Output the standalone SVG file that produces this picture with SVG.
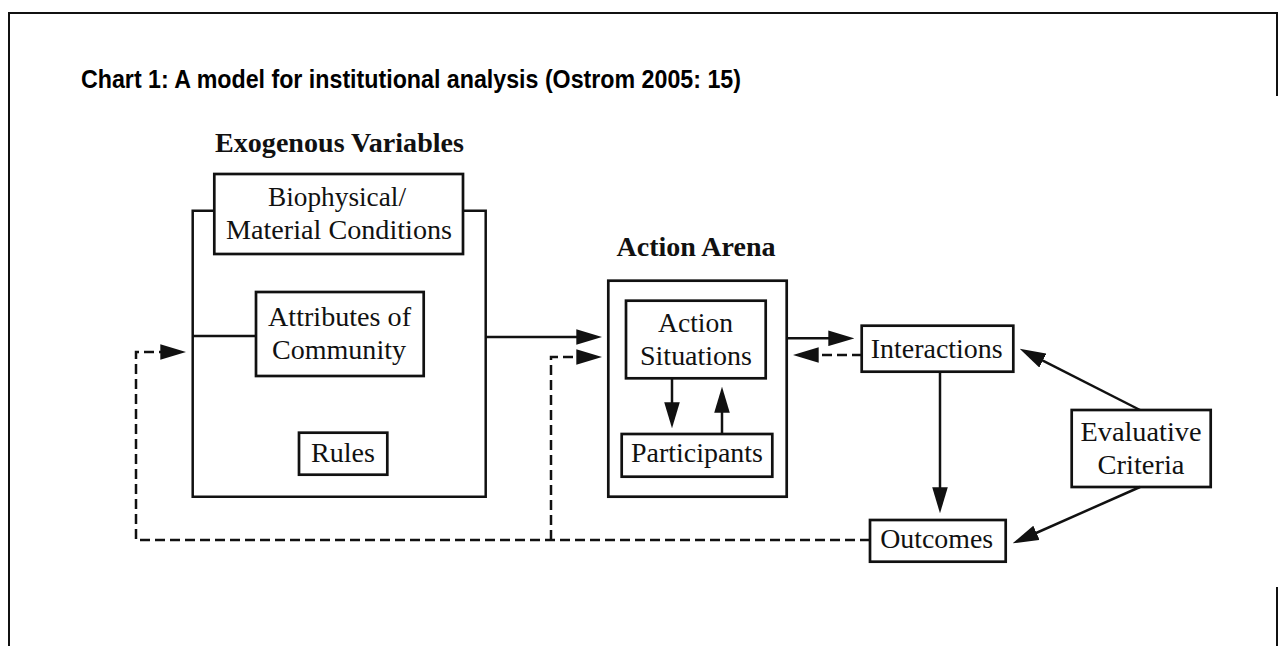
<svg xmlns="http://www.w3.org/2000/svg" width="1279" height="646" viewBox="0 0 1279 646">
  <style>
    .frame { fill: none; stroke: #111; stroke-width: 2; }
    .box { fill: #fff; stroke: #111; stroke-width: 2.7; }
    .line { fill: none; stroke: #111; stroke-width: 2.5; }
    .dash { fill: none; stroke: #111; stroke-width: 2.5; stroke-dasharray: 10 5; }
    .t { font-family: "Liberation Serif", "Times New Roman", serif; font-size: 28px; fill: #111; text-anchor: middle; }
    .tb { font-family: "Liberation Serif", "Times New Roman", serif; font-size: 28px; font-weight: bold; fill: #111; text-anchor: middle; }
    .title { font-family: "Liberation Sans", Arial, sans-serif; font-size: 25px; font-weight: bold; fill: #000; }
  </style>
  <defs>
    <marker id="arr" markerUnits="userSpaceOnUse" markerWidth="26" markerHeight="16" viewBox="0 0 25 15" refX="17" refY="7.5" orient="auto">
      <path d="M0,0 L25,7.5 L0,15 z" fill="#111" stroke="none"/>
    </marker>
  </defs>
  <rect width="1279" height="646" fill="#fff"/>
  <g id="frame">
    <path class="frame" d="M9,646 V13 H1277 V96"/>
    <path class="frame" d="M1277,587 V646"/>
  </g>
  <text class="title" x="81" y="88" textLength="660" lengthAdjust="spacingAndGlyphs">Chart 1: A model for institutional analysis (Ostrom 2005: 15)</text>

  <g id="exogenous">
    <text class="tb" x="339.5" y="152" textLength="249" lengthAdjust="spacingAndGlyphs">Exogenous Variables</text>
    <path class="line" d="M214,210.7 H192.7 V496.7 H485.7 V210.7 H463"/>
  </g>
  <g id="biophysical">
    <rect class="box" x="214.3" y="174" width="248.7" height="80"/>
    <text class="t" x="337" y="206" textLength="138" lengthAdjust="spacingAndGlyphs">Biophysical/</text>
    <text class="t" x="339" y="239" textLength="226" lengthAdjust="spacingAndGlyphs">Material Conditions</text>
  </g>
  <g id="attributes">
    <rect class="box" x="256" y="292" width="167.7" height="84"/>
    <text class="t" x="339.5" y="326" textLength="143" lengthAdjust="spacingAndGlyphs">Attributes of</text>
    <text class="t" x="339" y="359" textLength="134" lengthAdjust="spacingAndGlyphs">Community</text>
  </g>
  <g id="rules">
    <rect class="box" x="299" y="432.7" width="88.3" height="42"/>
    <text class="t" x="343" y="461.7" textLength="64" lengthAdjust="spacingAndGlyphs">Rules</text>
  </g>

  <g id="action-arena">
    <text class="tb" x="696" y="256" textLength="159" lengthAdjust="spacingAndGlyphs">Action Arena</text>
    <rect class="box" x="608.3" y="280.7" width="178.4" height="216"/>
  </g>
  <g id="action-situations">
    <rect class="box" x="626" y="300.7" width="139.7" height="77.6"/>
    <text class="t" x="695.5" y="331.7" textLength="75" lengthAdjust="spacingAndGlyphs">Action</text>
    <text class="t" x="696" y="365" textLength="112" lengthAdjust="spacingAndGlyphs">Situations</text>
  </g>
  <g id="participants">
    <rect class="box" x="621.7" y="434" width="150.6" height="42.7"/>
    <text class="t" x="697" y="461.7" textLength="132" lengthAdjust="spacingAndGlyphs">Participants</text>
  </g>

  <g id="interactions">
    <rect class="box" x="861.7" y="325.7" width="151.6" height="46"/>
    <text class="t" x="936.7" y="358.3" textLength="132" lengthAdjust="spacingAndGlyphs">Interactions</text>
  </g>
  <g id="outcomes">
    <rect class="box" x="870" y="520" width="135.7" height="41.7"/>
    <text class="t" x="936.7" y="548.3" textLength="113" lengthAdjust="spacingAndGlyphs">Outcomes</text>
  </g>
  <g id="evaluative">
    <rect class="box" x="1071.7" y="410" width="139" height="77"/>
    <text class="t" x="1141" y="441" textLength="121" lengthAdjust="spacingAndGlyphs">Evaluative</text>
    <text class="t" x="1141" y="474" textLength="87" lengthAdjust="spacingAndGlyphs">Criteria</text>
  </g>

  <g id="connectors">
    <path class="line" d="M193,336 H256"/>
    <path class="line" d="M486,337 H594" marker-end="url(#arr)"/>
    <path class="dash" d="M870,540 H136 V352 H178" marker-end="url(#arr)"/>
    <path class="dash" d="M551,540 V357 H594" marker-end="url(#arr)"/>
    <path class="line" d="M787,338.3 H846" marker-end="url(#arr)"/>
    <path class="dash" d="M862,355 H801" marker-end="url(#arr)"/>
    <path class="line" d="M940,372 V505" marker-end="url(#arr)"/>
    <path class="line" d="M1140,410 L1027.1,352.6" marker-end="url(#arr)"/>
    <path class="line" d="M1140,487 L1020.3,540" marker-end="url(#arr)"/>
    <path class="line" d="M672,378 V420" marker-end="url(#arr)"/>
    <path class="line" d="M722,434 V395" marker-end="url(#arr)"/>
  </g>
</svg>
